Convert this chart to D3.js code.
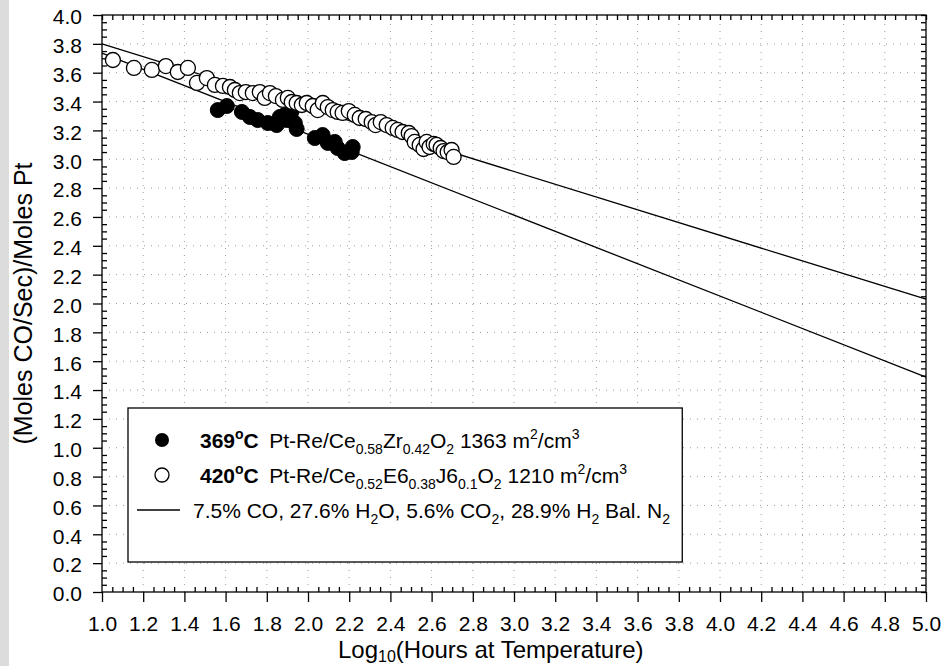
<!DOCTYPE html>
<html>
<head>
<meta charset="utf-8">
<script src="https://cdn.jsdelivr.net/npm/d3@7"></script>
<style>
  html, body { margin: 0; padding: 0; background: #fff; }
  svg { display: block; font-family: "Liberation Sans", Arial, sans-serif; }
</style>
</head>
<body>
<svg id="chart" width="941" height="666"></svg>
<script>
// Catalyst deactivation: WGS rate vs log10(time on stream)

// 369 °C series (filled markers): [log10 hours, rate]
const series369 = [
  [1.562, 3.341], [1.606, 3.369], [1.679, 3.328], [1.718, 3.293], [1.756, 3.272],
  [1.805, 3.251], [1.848, 3.237], [1.863, 3.293], [1.890, 3.310], [1.920, 3.330],
  [1.897, 3.272], [1.936, 3.251], [1.945, 3.210], [2.033, 3.147], [2.071, 3.168],
  [2.096, 3.113], [2.130, 3.120], [2.144, 3.078], [2.178, 3.043], [2.212, 3.050],
  [2.217, 3.085]
];

// 420 °C series (open markers): [log10 hours, rate]
const series420 = [
  [1.053, 3.688], [1.155, 3.633], [1.242, 3.619], [1.310, 3.646], [1.368, 3.605],
  [1.417, 3.633], [1.461, 3.529], [1.509, 3.563], [1.548, 3.515], [1.587, 3.508],
  [1.621, 3.501], [1.645, 3.480], [1.669, 3.459], [1.698, 3.466], [1.732, 3.459],
  [1.766, 3.466], [1.790, 3.425], [1.815, 3.459], [1.844, 3.438], [1.878, 3.411],
  [1.902, 3.425], [1.921, 3.397], [1.945, 3.390], [1.970, 3.376], [1.994, 3.390],
  [2.023, 3.369], [2.047, 3.341], [2.072, 3.390], [2.096, 3.362], [2.120, 3.341],
  [2.144, 3.328], [2.168, 3.321], [2.198, 3.334], [2.227, 3.307], [2.251, 3.286],
  [2.280, 3.279], [2.309, 3.258], [2.328, 3.237], [2.353, 3.258], [2.382, 3.237],
  [2.411, 3.217], [2.435, 3.203], [2.459, 3.189], [2.489, 3.182], [2.503, 3.161],
  [2.518, 3.120], [2.542, 3.099], [2.561, 3.071], [2.576, 3.120], [2.590, 3.085],
  [2.610, 3.106], [2.624, 3.099], [2.644, 3.078], [2.658, 3.057], [2.678, 3.050],
  [2.697, 3.064], [2.707, 3.016]
];

// Linear fits, given by their end points over the plotted range
const fit369 = [[1.0, 3.735], [5.0, 1.49]];
const fit420 = [[1.0, 3.80], [5.0, 2.03]];

// Axis ranges and tick steps
const xDomain = [1.0, 5.0];
const yDomain = [0.0, 4.0];
const majorStep = 0.2;
const minorStep = 0.05;

const svg = d3.select("#chart");
const W = 941, H = 666;
const m = { left: 102, right: 15, top: 15, bottom: 74 };
const FONT = "Liberation Sans, Arial, sans-serif";

// light grey strip down the left edge of the figure
svg.append("rect").attr("x", 0).attr("y", 0).attr("width", 9).attr("height", H).attr("fill", "#dcdcdc");

const x = d3.scaleLinear().domain(xDomain).range([m.left, W - m.right]);
const y = d3.scaleLinear().domain(yDomain).range([H - m.bottom, m.top]);

const steps = (lo, hi, s) => d3.range(Math.round((hi - lo) / s) + 1).map(i => +(lo + i * s).toFixed(4));
const xMajor = steps(xDomain[0], xDomain[1], majorStep);
const yMajor = steps(yDomain[0], yDomain[1], majorStep);
const xMinor = steps(xDomain[0], xDomain[1], minorStep);
const yMinor = steps(yDomain[0], yDomain[1], minorStep);
const isMajor = v => Math.abs(v / majorStep - Math.round(v / majorStep)) < 1e-6;

// dotted grid at the major ticks
const grid = svg.append("g").attr("stroke", "#9a9a9a").attr("stroke-width", 1).attr("stroke-dasharray", "1,6");
grid.selectAll(".gx").data(xMajor.slice(1, -1)).join("line")
  .attr("x1", d => x(d)).attr("x2", d => x(d)).attr("y1", y(yDomain[0])).attr("y2", y(yDomain[1]));
grid.selectAll(".gy").data(yMajor.slice(1, -1)).join("line")
  .attr("y1", d => y(d)).attr("y2", d => y(d)).attr("x1", x(xDomain[0])).attr("x2", x(xDomain[1]));

const styleTicks = g => {
  g.select(".domain").remove();
  g.selectAll("line").attr("stroke", "#000").attr("stroke-width", 1.3);
  g.selectAll("text").attr("font-size", 21).attr("fill", "#000").attr("font-family", FONT);
};

// bottom axis: major ticks outward with labels, minor ticks inward
svg.append("g").attr("transform", `translate(0,${y(yDomain[0])})`)
  .call(d3.axisBottom(x).tickValues(xMajor).tickFormat(d3.format(".1f")).tickSize(10).tickPadding(14))
  .call(styleTicks);
svg.append("g").attr("transform", `translate(0,${y(yDomain[0])})`)
  .call(d3.axisTop(x).tickValues(xMinor.filter(v => !isMajor(v))).tickSize(5).tickFormat(""))
  .call(styleTicks);

// left axis: major ticks outward with labels, minor ticks inward
svg.append("g").attr("transform", `translate(${x(xDomain[0])},0)`)
  .call(d3.axisLeft(y).tickValues(yMajor).tickFormat(d3.format(".1f")).tickSize(9).tickPadding(11))
  .call(styleTicks)
  .call(g => g.selectAll("text").attr("dy", "0.42em"));
svg.append("g").attr("transform", `translate(${x(xDomain[0])},0)`)
  .call(d3.axisRight(y).tickValues(yMinor.filter(v => !isMajor(v))).tickSize(5).tickFormat(""))
  .call(styleTicks);

// top and right axes: inward ticks only
svg.append("g").attr("transform", `translate(0,${y(yDomain[1])})`)
  .call(d3.axisBottom(x).tickValues(xMinor).tickSize(5).tickFormat(""))
  .call(styleTicks);
svg.append("g").attr("transform", `translate(${x(xDomain[1])},0)`)
  .call(d3.axisLeft(y).tickValues(yMinor).tickSize(5).tickFormat(""))
  .call(styleTicks);

// frame
svg.append("rect")
  .attr("x", x(xDomain[0])).attr("y", y(yDomain[1]))
  .attr("width", x(xDomain[1]) - x(xDomain[0])).attr("height", y(yDomain[0]) - y(yDomain[1]))
  .attr("fill", "none").attr("stroke", "#000").attr("stroke-width", 1.3);

// fitted lines
const line = d3.line().x(d => x(d[0])).y(d => y(d[1]));
const plot = svg.append("g");
[fit369, fit420].forEach(f => {
  plot.append("path").attr("d", line(f)).attr("fill", "none").attr("stroke", "#000").attr("stroke-width", 1.3);
});

// markers
const R = 7.5;
plot.selectAll(".p369").data(series369).join("circle")
  .attr("cx", d => x(d[0])).attr("cy", d => y(d[1])).attr("r", R)
  .attr("fill", "#000").attr("stroke", "#000").attr("stroke-width", 1);
plot.selectAll(".p420").data(series420).join("circle")
  .attr("cx", d => x(d[0])).attr("cy", d => y(d[1])).attr("r", R)
  .attr("fill", "#fff").attr("stroke", "#000").attr("stroke-width", 1.3);

// axis titles
svg.append("text")
  .attr("x", 338).attr("y", 658)
  .attr("font-size", 24)
  .call(t => {
    t.append("tspan").text("Log");
    t.append("tspan").attr("font-size", 16).attr("dy", 4).text("10");
    t.append("tspan").attr("dy", -4).text("(Hours at Temperature)");
  });
svg.append("text")
  .attr("transform", `translate(32,${(y(yDomain[0]) + y(yDomain[1])) / 2}) rotate(-90)`)
  .attr("text-anchor", "middle").attr("font-size", 25)
  .text("(Moles CO/Sec)/Moles Pt");

// legend
const legendRows = [
  { mark: "filled", bold: "369", parts: [["Pt-Re/Ce", 0], ["0.58", 1], ["Zr", 0], ["0.42", 1], ["O", 0], ["2", 1], [" 1363 m", 0], ["2", -1], ["/cm", 0], ["3", -1]] },
  { mark: "open", bold: "420", parts: [["Pt-Re/Ce", 0], ["0.52", 1], ["E6", 0], ["0.38", 1], ["J6", 0], ["0.1", 1], ["O", 0], ["2", 1], [" 1210 m", 0], ["2", -1], ["/cm", 0], ["3", -1]] },
  { mark: "line", bold: null, parts: [["7.5% CO, 27.6% H", 0], ["2", 1], ["O, 5.6% CO", 0], ["2", 1], [", 28.9% H", 0], ["2", 1], [" Bal. N", 0], ["2", 1]] }
];
const lg = svg.append("g");
const box = lg.append("rect").attr("fill", "#fff").attr("stroke", "#000").attr("stroke-width", 1.3);
const rowY = [440, 475, 510];
let maxRight = 0;
legendRows.forEach((r, i) => {
  const cy = rowY[i];
  if (r.mark === "filled") lg.append("circle").attr("cx", 162).attr("cy", cy).attr("r", 7).attr("fill", "#000");
  if (r.mark === "open") lg.append("circle").attr("cx", 162).attr("cy", cy).attr("r", 7).attr("fill", "#fff").attr("stroke", "#000").attr("stroke-width", 1.3);
  if (r.mark === "line") lg.append("line").attr("x1", 137).attr("x2", 180).attr("y1", cy).attr("y2", cy).attr("stroke", "#000").attr("stroke-width", 1.3);
  const t = lg.append("text").attr("y", cy + 7.5).attr("font-size", 21).attr("x", r.mark === "line" ? 193 : 200);
  if (r.bold) {
    t.append("tspan").attr("font-weight", "bold").text(r.bold);
    t.append("tspan").attr("font-weight", "bold").attr("font-size", 14).attr("dy", -9).text("o");
    t.append("tspan").attr("font-weight", "bold").attr("dy", 9).text("C");
    t.append("tspan").text("\u2002");
  }
  let shift = 0;
  r.parts.forEach(([s, k]) => {
    const target = k === 1 ? 6 : k === -1 ? -9 : 0;
    const sp = t.append("tspan").attr("dy", target - shift).text(s);
    if (k !== 0) sp.attr("font-size", 14);
    shift = target;
  });
  const bb = t.node().getBBox();
  maxRight = Math.max(maxRight, bb.x + bb.width);
});
box.attr("x", 128).attr("y", 408).attr("width", maxRight + 12 - 128).attr("height", 562 - 408);
</script>
</body>
</html>
